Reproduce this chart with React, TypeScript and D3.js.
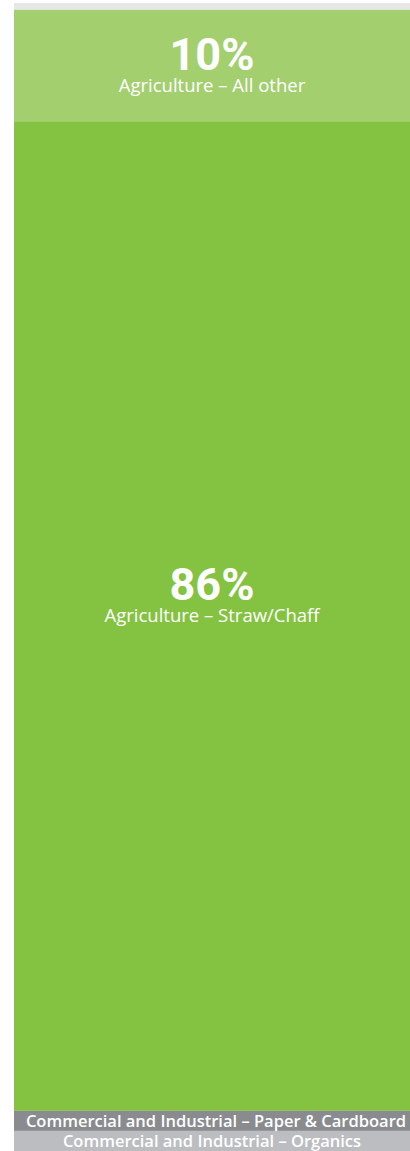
import React from "react";
import * as d3 from "d3";

const categories = [
  "Other",
  "Agriculture – All other",
  "Agriculture – Straw/Chaff",
  "Commercial and Industrial – Paper & Cardboard",
  "Commercial and Industrial – Organics",
];
const shares = [0.6, 9.7, 86.2, 1.75, 1.75];
const pctLabels = ["", "10%", "86%", "", ""];
const showName = [false, true, true, true, true];
const colors = ["#e6e6e6", "#a3cf6f", "#84c341", "#898b8e", "#bcbdc0"];

const W = 410;
const H = 1151;
const margin = { top: 3, right: 0, bottom: 0, left: 14 };

export default function App() {
  const total = d3.sum(shares);
  const y = d3
    .scaleLinear()
    .domain([0, total])
    .range([margin.top, H - margin.bottom]);
  const x0 = margin.left;
  const x1 = W - margin.right;
  const cx = (x0 + x1) / 2;
  const cum = d3.cumsum(shares);
  const segs = shares.map((v, i) => {
    const start = i === 0 ? 0 : cum[i - 1];
    return { i, start, end: start + v };
  });

  return (
    <svg
      width={W}
      height={H}
      style={{ position: "absolute", left: 0, top: 0, display: "block" }}
    >
      {segs.map((s) => (
        <rect
          key={"r" + s.i}
          x={x0}
          width={x1 - x0}
          y={y(s.start)}
          height={y(s.end) - y(s.start)}
          fill={colors[s.i]}
        />
      ))}
      {segs.map((s) => {
        const top = y(s.start);
        const h = y(s.end) - y(s.start);
        const c = top + h / 2;
        if (!showName[s.i]) return null;
        if (pctLabels[s.i]) {
          const shift = h > 500 ? -21 : 0;
          return (
            <g key={"l" + s.i} transform={`translate(${cx},${c + shift})`} fill="#fff" textAnchor="middle">
              <text
                y={4.5}
                style={{ fontFamily: "Roboto", fontWeight: 700, fontSize: 45 }}
              >
                {pctLabels[s.i]}
              </text>
              <text
                y={26.5}
                style={{ fontFamily: "'Open Sans'", fontWeight: 500, fontSize: 18.5 }}
              >
                {categories[s.i]}
              </text>
            </g>
          );
        }
        return (
          <text
            key={"l" + s.i}
            x={cx + (s.i === 3 ? 4 : 0)}
            y={c + 6.5}
            fill="#fff"
            textAnchor="middle"
            style={{ fontFamily: "'Open Sans'", fontWeight: 600, fontSize: 16.5 }}
          >
            {categories[s.i]}
          </text>
        );
      })}
    </svg>
  );
}
